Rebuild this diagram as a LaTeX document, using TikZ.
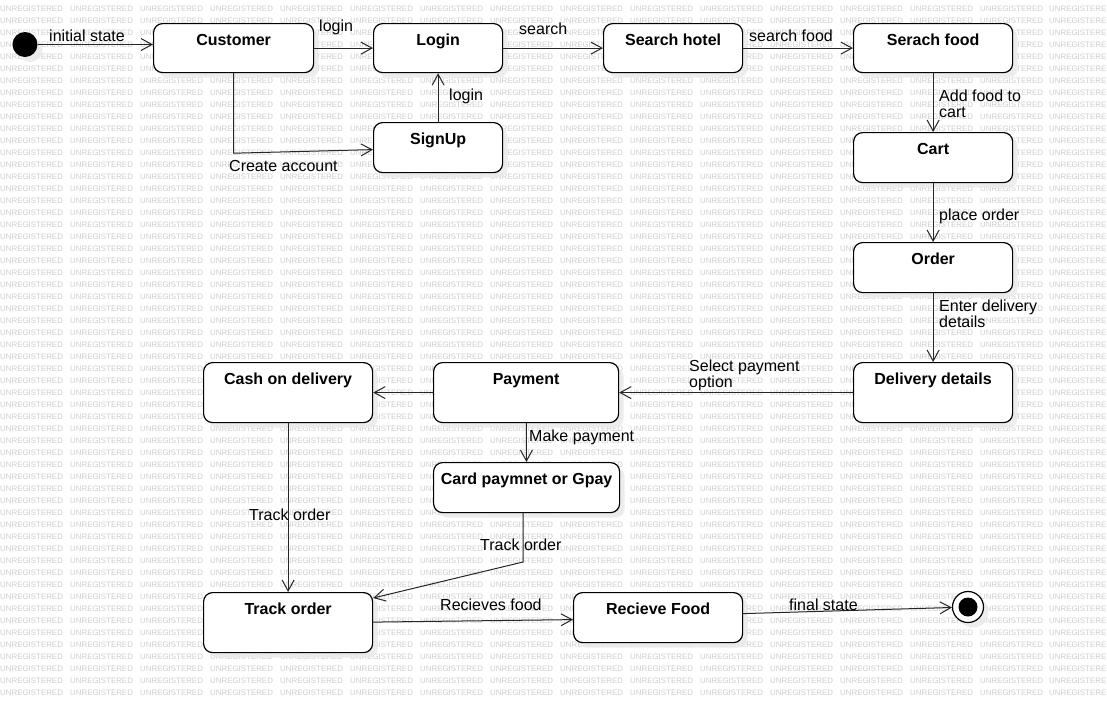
\documentclass[tikz,border=0pt]{standalone}
\usepackage{fontspec}
\setmainfont{Liberation Sans}
\usetikzlibrary{arrows.meta,calc,shadows}
\definecolor{wmgray}{RGB}{206,206,206}
\definecolor{shadowgray}{RGB}{234,234,234}
\begin{document}
\begin{tikzpicture}[x=1pt,y=-1pt,
  wm/.style={font=\fontsize{7.9}{8}\selectfont, text=wmgray, anchor=west, inner sep=0pt},
  sh/.style={drop shadow={shadow xshift=5pt,shadow yshift=-5pt,fill=shadowgray,opacity=0.85}},
  statebox/.style={draw=black, line width=1.2pt, fill=white, rounded corners=9pt, inner sep=0pt, anchor=north west, sh},
  title/.style={font=\bfseries\fontsize{16}{19}\selectfont, anchor=base, inner sep=0pt},
  lab/.style={font=\fontsize{16}{15.5}\selectfont, anchor=base west, inner sep=0pt},
  edge/.style={line width=1pt, draw=black!85, -{Straight Barb[length=11pt,width=12pt,line width=1pt]}}
]
\fill[white] (0,0) rectangle (1107,702);
\useasboundingbox (0,0) rectangle (1107,702);
% watermark
\foreach \r in {0,...,57}{
  \foreach \c in {0,...,14}{
    \node[wm] at (70*\c, 8.5+12*\r) {UNREGISTERED};
  }
  \node[wm] at (1049, 8.5+12*\r) {UNREGISTERE};
}
% initial / final states
\node[circle, fill=black, minimum size=25pt, inner sep=0pt, sh] (init) at (25,44.5) {};
\node[circle, draw=black, line width=1.2pt, fill=white, minimum size=31pt, inner sep=0pt, sh] (final) at (968,607) {};
\node[circle, fill=black, minimum size=19pt, inner sep=0pt] (finalin) at (final) {};
% states
\node[statebox, minimum width=160pt, minimum height=49pt] (cust) at (153,23) {};
\node[statebox, minimum width=129pt, minimum height=49pt] (login) at (373,23) {};
\node[statebox, minimum width=129pt, minimum height=50pt] (signup) at (373,122) {};
\node[statebox, minimum width=139pt, minimum height=49pt] (hotel) at (603,23) {};
\node[statebox, minimum width=159pt, minimum height=49pt] (food) at (853,23) {};
\node[statebox, minimum width=159pt, minimum height=50pt] (cart) at (853,132) {};
\node[statebox, minimum width=159pt, minimum height=50pt] (order) at (853,242) {};
\node[statebox, minimum width=159pt, minimum height=60pt] (deliv) at (853,362) {};
\node[statebox, minimum width=185pt, minimum height=60pt] (pay) at (433,362) {};
\node[statebox, minimum width=169pt, minimum height=60pt] (cash) at (203,362) {};
\node[statebox, minimum width=186pt, minimum height=50pt] (card) at (433,462) {};
\node[statebox, minimum width=169pt, minimum height=60pt] (track) at (203,592) {};
\node[statebox, minimum width=169pt, minimum height=50pt] (recv) at (573,592) {};
% titles
\node[title] (custT) at ($(cust.north)+(0,22)$) {Customer};
\node[title] (loginT) at ($(login.north)+(0,22)$) {Login};
\node[title] (signupT) at ($(signup.north)+(0,22)$) {SignUp};
\node[title] (hotelT) at ($(hotel.north)+(0,22)$) {Search hotel};
\node[title] (foodT) at ($(food.north)+(0,22)$) {Serach food};
\node[title] (cartT) at ($(cart.north)+(0,22)$) {Cart};
\node[title] (orderT) at ($(order.north)+(0,22)$) {Order};
\node[title] (delivT) at ($(deliv.north)+(0,22)$) {Delivery details};
\node[title] (payT) at ($(pay.north)+(0,22)$) {Payment};
\node[title] (cashT) at ($(cash.north)+(0,22)$) {Cash on delivery};
\node[title] (cardT) at ($(card.north)+(0,22)$) {Card paymnet or Gpay};
\node[title] (trackT) at ($(track.north)+(0,22)$) {Track order};
\node[title] (recvT) at ($(recv.north)+(0,22)$) {Recieve Food};
% connectors
\draw[edge] (init) -- (init -| cust.west);
\draw[edge] (cust) -- (login);
\draw[edge] (cust.south) -- ++(0,80) -- ($(signup.west)+(0,2)$);
\draw[edge] (signup) -- (login);
\draw[edge] (login) -- (hotel);
\draw[edge] (hotel) -- (food);
\draw[edge] (food) -- (cart);
\draw[edge] (cart) -- (order);
\draw[edge] (order) -- (deliv);
\draw[edge] (deliv) -- (pay);
\draw[edge] (pay) -- (cash);
\draw[edge] (pay) -- (card);
\draw[edge] (cash) -- (track);
\coordinate (cbend) at (523,562);
\draw[edge] (card.south -| cbend) -- (cbend) -- ($(track.north east)+(0,6)$);
\draw[edge] ($(track.east)+(0,-0.5)$) -- ($(recv.west)+(0,2)$);
\draw[edge] ($(recv.east)+(0,-4)$) -- (final);
% labels
\node[lab] (lInit) at (49,41.5) {initial state};
\node[lab] (lLogin1) at (319,31.5) {login};
\node[lab] (lCreate) at (229,171) {Create account};
\node[lab] (lLogin2) at (449,100.5) {login};
\node[lab] (lSearch) at (519,34) {search};
\node[lab] (lSFood) at (749,41.5) {search food};
\node[lab] (lAdd) at (939,101.5) {\begin{tabular}[t]{@{}l@{}}Add food to\\cart\end{tabular}};
\node[lab] (lPlace) at (939,220) {place order};
\node[lab] (lEnter) at (939,311.5) {\begin{tabular}[t]{@{}l@{}}Enter delivery\\details\end{tabular}};
\node[lab] (lSelect) at (689,371.5) {\begin{tabular}[t]{@{}l@{}}Select payment\\option\end{tabular}};
\node[lab] (lMake) at (529,441.5) {Make payment};
\node[lab] (lTrack1) at (249,520.5) {Track order};
\node[lab] (lTrack2) at (480,550.5) {Track order};
\node[lab] (lRecv) at (440,610.5) {Recieves food};
\node[lab] (lFinal) at (789,610.5) {final state};
\end{tikzpicture}
\end{document}
